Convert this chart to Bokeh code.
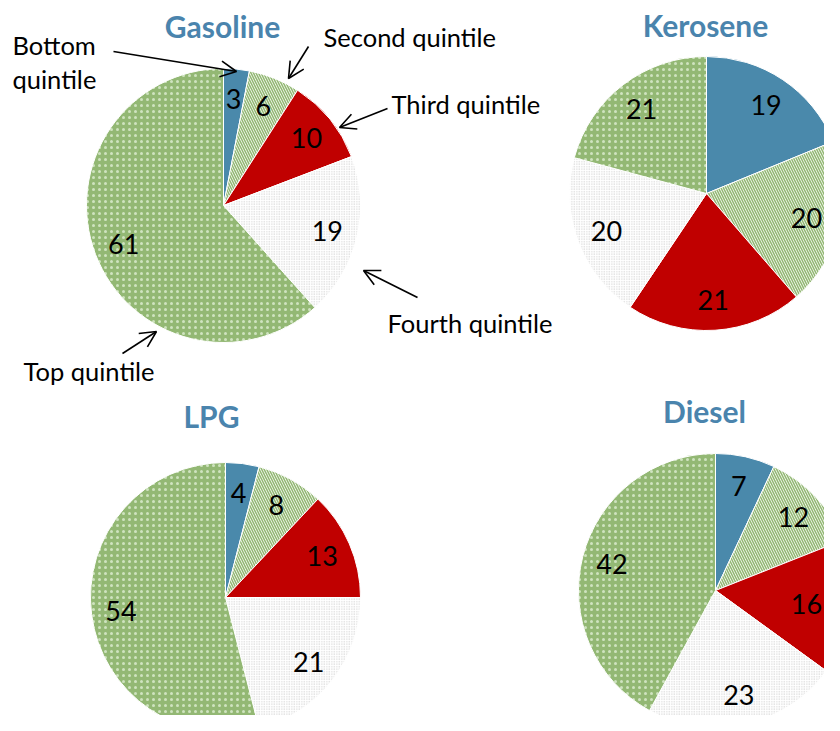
import math
from bokeh.plotting import figure
from bokeh.models import Range1d, Arrow, OpenHead, Label
from bokeh.embed import file_html
from bokeh.resources import INLINE

# ---- data ----
quintiles = ["Bottom quintile", "Second quintile", "Third quintile", "Fourth quintile", "Top quintile"]
fuels = ["Gasoline", "Kerosene", "LPG", "Diesel"]
gasoline = [3, 6, 10, 19, 61]
kerosene = [19, 20, 21, 20, 21]
lpg = [4, 8, 13, 21, 54]
diesel = [7, 12, 16, 23, 42]

# ---- layout (screen pixel coordinates) ----
FW, FH = 824, 715
H = 731
def sy(y):
    return H - y

centers = {"Gasoline": (223, 205), "Kerosene": (706, 193), "LPG": (225, 597), "Diesel": (715, 590)}
radii = {"Gasoline": 137, "Kerosene": 137, "LPG": 135, "Diesel": 137}
titles_pos = {"Gasoline": (222, 25), "Kerosene": (705, 24), "LPG": (211, 415), "Diesel": (704, 410)}
series = {"Gasoline": gasoline, "Kerosene": kerosene, "LPG": lpg, "Diesel": diesel}

styles = [
    dict(fill_color="#4a89ab", hatch_pattern=None),
    dict(fill_color="white", hatch_pattern="\\", hatch_color="#93b874", hatch_scale=5, hatch_weight=1.6),
    dict(fill_color="#c00000", hatch_pattern=None),
    dict(fill_color="white", hatch_pattern="dot", hatch_color="#c8c8c8", hatch_scale=2.5, hatch_weight=1),
    dict(fill_color="#93b874", hatch_pattern="dot", hatch_color="#cfe3c0", hatch_scale=6, hatch_weight=1.0),
]

FONT = "Lato"
TITLE_COLOR = "#4a84ad"

p = figure(width=FW, height=FH, x_range=Range1d(0, FW), y_range=Range1d(H - FH, H),
           toolbar_location=None, output_backend="svg", min_border=0,
           x_axis_location=None, y_axis_location=None)
p.grid.visible = False
p.outline_line_color = None

for fuel in fuels:
    vals = series[fuel]
    total = float(sum(vals))
    cx, cy = centers[fuel]
    r = radii[fuel]
    cum = 0.0
    for i, v in enumerate(vals):
        a0 = math.pi / 2 - 2 * math.pi * cum / total
        a1 = math.pi / 2 - 2 * math.pi * (cum + v) / total
        st = styles[i]
        kw = dict(x=cx, y=sy(cy), radius=r, start_angle=a0, end_angle=a1, direction="clock",
                  fill_color=st["fill_color"], line_color="white", line_width=1)
        if st["hatch_pattern"]:
            kw.update(hatch_pattern=st["hatch_pattern"], hatch_color=st["hatch_color"],
                      hatch_scale=st["hatch_scale"], hatch_weight=st["hatch_weight"])
        p.wedge(**kw)
        mid = (a0 + a1) / 2
        lx = cx + 0.78 * r * math.cos(mid)
        ly = sy(cy) + 0.78 * r * math.sin(mid)
        half = 8 * len(str(v))
        if lx + half > FW - 2:
            lx = FW - 2 - half
        p.add_layout(Label(x=lx, y=ly, text=str(v), text_align="center", text_baseline="middle",
                           text_font=FONT, text_font_size="27px", text_color="black"))
        cum += v
    tx, ty = titles_pos[fuel]
    p.add_layout(Label(x=tx, y=sy(ty), text=fuel, text_align="center", text_baseline="middle",
                       text_font=FONT, text_font_size="30px", text_font_style="bold",
                       text_color=TITLE_COLOR))

# ---- annotations on Gasoline ----
ann_texts = [("Bottom", 12, 44), ("quintile", 12, 78), ("Second quintile", 323, 36),
             ("Third quintile", 391, 103), ("Fourth quintile", 387, 322), ("Top quintile", 23, 370)]
for t, x, y in ann_texts:
    p.add_layout(Label(x=x, y=sy(y), text=t, text_align="left", text_baseline="middle",
                       text_font=FONT, text_font_size="25.5px", text_color="black"))

arrows = [((113, 51), (236, 71)), ((308, 46), (288, 78)), ((387, 108), (339, 127)),
          ((417, 297), (363, 270)), ((122, 353), (156, 331))]
for (x0, y0), (x1, y1) in arrows:
    p.add_layout(Arrow(end=OpenHead(size=16, line_width=1.6, line_color="black"),
                       x_start=x0, y_start=sy(y0), x_end=x1, y_end=sy(y1),
                       line_width=1.6, line_color="black"))

open("out.html", "w").write(file_html(p, INLINE))
